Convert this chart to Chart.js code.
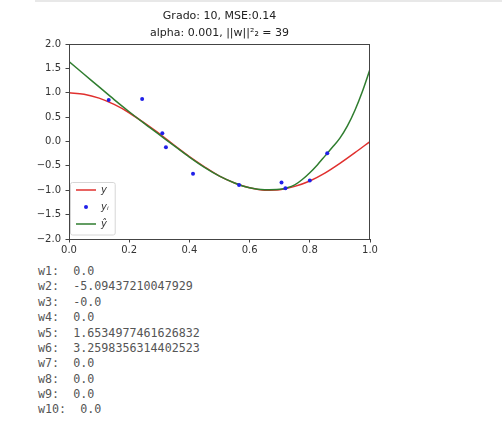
<!DOCTYPE html>
<html>
<head>
<meta charset="utf-8">
<script src="https://cdn.jsdelivr.net/npm/chart.js@4.4.0/dist/chart.umd.min.js"></script>
<style>
  html, body { margin: 0; padding: 0; background: #fff; }
  body { width: 502px; height: 423px; position: relative; overflow: hidden; }
  #topbar { position: absolute; left: 35px; top: 0; right: 0; height: 2px; background: #e8e8e8; }
  #wrap { position: absolute; left: 0; top: 0; width: 400px; height: 258px; }
  #weights { position: absolute; left: 38px; top: 264px; margin: 0; font: 11.7px/15.37px "DejaVu Sans Mono", monospace; color: #555; }
</style>
</head>
<body>
<div id="topbar"></div>
<div id="wrap"><canvas id="chart" width="400" height="258"></canvas></div>
<pre id="weights"></pre>
<script>
// curva real (y), leida cada 0.05
const xTrue = [0, 0.05, 0.1, 0.15, 0.2, 0.25, 0.3, 0.35, 0.4, 0.45, 0.5, 0.55, 0.6, 0.65, 0.7, 0.75, 0.8, 0.85, 0.9, 0.95, 1.0];
const yTrue = [1.00, 0.97, 0.89, 0.76, 0.59, 0.38, 0.16, -0.08, -0.31, -0.52, -0.71, -0.85, -0.95, -1.00, -0.99, -0.92, -0.81, -0.65, -0.45, -0.23, 0.00];

// ajuste (y gorro), mas denso a la derecha donde sube rapido
const xHat = [0, 0.05, 0.1, 0.15, 0.2, 0.25, 0.3, 0.35, 0.4, 0.45, 0.5, 0.55, 0.6, 0.65, 0.7, 0.725, 0.75, 0.775, 0.8, 0.825, 0.85, 0.875, 0.9, 0.925, 0.95, 0.975, 1.0];
const yHat = [1.64, 1.38, 1.12, 0.86, 0.61, 0.37, 0.14, -0.09, -0.32, -0.53, -0.71, -0.85, -0.95, -0.99, -0.98, -0.95, -0.89, -0.78, -0.64, -0.48, -0.30, -0.12, 0.07, 0.32, 0.64, 1.03, 1.48];

// muestras con ruido
const sampleX = [0.132, 0.243, 0.310, 0.322, 0.412, 0.565, 0.706, 0.719, 0.800, 0.858];
const sampleY = [0.85, 0.87, 0.17, -0.12, -0.66, -0.89, -0.84, -0.96, -0.80, -0.24];

const titleLines = ['Grado: 10, MSE:0.14', 'alpha: 0.001, ||w||\u00b2\u2082 = 39'];
const seriesLabels = ['y', 'y\u1d62', '\u0177'];

const xMin = 0, xMax = 1, xStep = 0.2;
const yMin = -2, yMax = 2, yStep = 0.5;

const weightNames = ['w1', 'w2', 'w3', 'w4', 'w5', 'w6', 'w7', 'w8', 'w9', 'w10'];
const weightValues = ['0.0', '-5.09437210047929', '-0.0', '0.0', '1.6534977461626832', '3.2598356314402523', '0.0', '0.0', '0.0', '0.0'];

document.getElementById('weights').textContent =
    weightNames.map((n, i) => n + ':  ' + weightValues[i]).join('\n');

const toXY = (xs, ys) => xs.map((x, i) => ({ x: x, y: ys[i] }));

// icono del punto para la leyenda
const dotIcon = document.createElement('canvas');
dotIcon.width = 6;
dotIcon.height = 6;
(function () {
    const c = dotIcon.getContext('2d');
    c.fillStyle = '#2020e8';
    c.beginPath();
    c.arc(3, 3, 2, 0, Math.PI * 2);
    c.fill();
})();

const axisColor = '#444';
const tickFont = { family: 'DejaVu Sans', size: 10 };

const framePlugin = {
    id: 'frame',
    // la leyenda en chartArea queda con top=0, se baja al area del grafico
    afterLayout(chart) {
        const lg = chart.legend;
        lg.top = chart.chartArea.top;
        lg.bottom = chart.chartArea.bottom - 3;
    },
    afterDraw(chart) {
        const ctx = chart.ctx;
        const a = chart.chartArea;
        ctx.save();
        ctx.strokeStyle = axisColor;
        ctx.lineWidth = 1;
        ctx.strokeRect(a.left + 0.5, a.top + 0.5, a.right - a.left - 1, a.bottom - a.top);

        // marco de la leyenda
        const boxes = chart.legend.legendHitBoxes;
        if (boxes && boxes.length) {
            const l = chart.legend.left + 1.5;
            const t = boxes[0].top - 2.5;
            const r = Math.max(...boxes.map(b => b.left + b.width)) + 6.5;
            const last = boxes[boxes.length - 1];
            const b = last.top + last.height + 6;
            ctx.strokeStyle = '#d6d6d6';
            ctx.beginPath();
            ctx.roundRect(l, t, r - l, b - t, 2);
            ctx.stroke();
        }
        ctx.restore();
    }
};

new Chart(document.getElementById('chart'), {
    type: 'scatter',
    data: {
        datasets: [
            {
                label: seriesLabels[0],
                data: toXY(xTrue, yTrue),
                showLine: true,
                borderColor: '#e0302e',
                borderWidth: 1.5,
                pointRadius: 0,
                cubicInterpolationMode: 'monotone',
                order: 3
            },
            {
                label: seriesLabels[1],
                data: toXY(sampleX, sampleY),
                showLine: false,
                backgroundColor: '#2020e8',
                borderColor: '#2020e8',
                borderWidth: 0,
                pointRadius: 2,
                order: 1
            },
            {
                label: seriesLabels[2],
                data: toXY(xHat, yHat),
                showLine: true,
                borderColor: '#2f7d2f',
                borderWidth: 1.5,
                pointRadius: 0,
                cubicInterpolationMode: 'monotone',
                order: 2
            }
        ]
    },
    options: {
        responsive: false,
        animation: false,
        layout: { padding: { left: 0, right: 30, top: 0, bottom: 0 } },
        plugins: {
            title: {
                display: true,
                fullSize: false,
                text: titleLines,
                color: '#222',
                font: { family: 'DejaVu Sans', size: 11, weight: 'normal', lineHeight: 1.5 },
                padding: { top: 8, bottom: 3 }
            },
            legend: {
                position: 'chartArea',
                align: 'end',
                labels: {
                    usePointStyle: true,
                    pointStyleWidth: 20,
                    boxHeight: 10,
                    padding: 7,
                    color: '#333',
                    font: { family: 'DejaVu Sans', size: 10, style: 'italic' },
                    generateLabels: chart => chart.data.datasets.map((ds, i) => ({
                        text: ds.label,
                        fillStyle: ds.borderColor,
                        strokeStyle: ds.borderColor,
                        lineWidth: ds.showLine ? 1.5 : 0,
                        pointStyle: ds.showLine ? 'line' : dotIcon,
                        fontColor: '#333',
                        hidden: false,
                        datasetIndex: i
                    }))
                }
            },
            tooltip: { enabled: false }
        },
        scales: {
            x: {
                type: 'linear',
                min: xMin,
                max: xMax,
                afterFit: s => { s.height = 19; },
                border: { display: true, color: axisColor },
                grid: { display: true, drawOnChartArea: false, drawTicks: true, tickLength: 3.5, tickColor: axisColor },
                ticks: {
                    stepSize: xStep,
                    autoSkip: false,
                    padding: 1.5,
                    color: '#333',
                    font: tickFont,
                    maxRotation: 0,
                    callback: v => v.toFixed(1)
                }
            },
            y: {
                type: 'linear',
                min: yMin,
                max: yMax,
                afterFit: s => { s.width = 69; },
                border: { display: true, color: axisColor },
                grid: { display: true, drawOnChartArea: false, drawTicks: true, tickLength: 3.5, tickColor: axisColor },
                ticks: {
                    stepSize: yStep,
                    autoSkip: false,
                    padding: 4.5,
                    color: '#333',
                    font: tickFont,
                    callback: v => (v < 0 ? '\u2212' : '') + Math.abs(v).toFixed(1)
                }
            }
        }
    },
    plugins: [framePlugin]
});
</script>
</body>
</html>
